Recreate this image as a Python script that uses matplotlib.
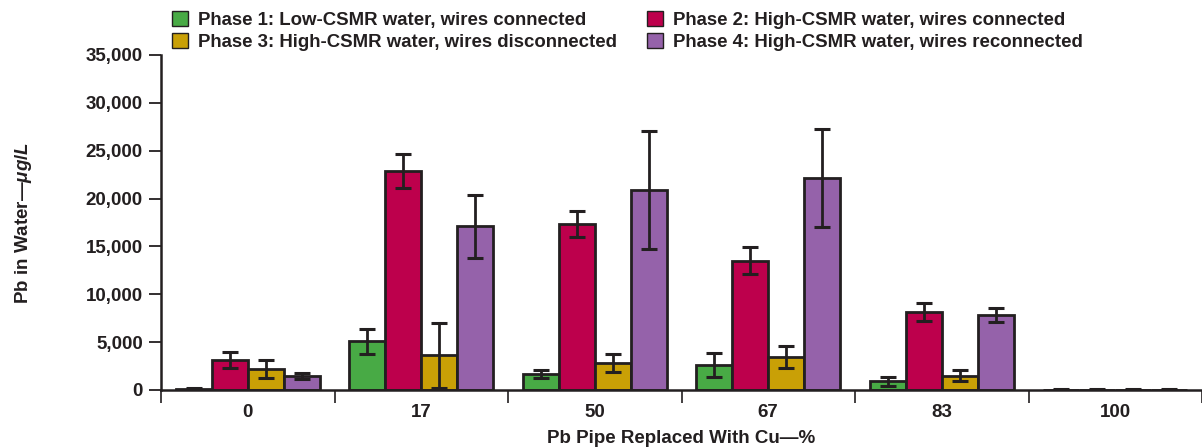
import numpy as np
import matplotlib
matplotlib.use("Agg")
import matplotlib.pyplot as plt
import matplotlib.ticker as ticker
from matplotlib.patches import Patch

plt.rcParams['font.family'] = ['Liberation Sans', 'DejaVu Sans']
plt.rcParams['font.weight'] = 'bold'
plt.rcParams['axes.labelweight'] = 'bold'
plt.rcParams['mathtext.fontset'] = 'custom'
plt.rcParams['mathtext.it'] = 'Liberation Sans:italic:bold'
plt.rcParams['mathtext.rm'] = 'Liberation Sans:bold'

# percent of lead pipe replaced with copper
categories = ['0', '17', '50', '67', '83', '100']

# mean lead in water (ug/L) and error bar half-widths per phase
phase1 = [100, 5100, 1650, 2600, 900, 0]
phase1_err = [150, 1300, 400, 1250, 450, 100]
phase2 = [3100, 22900, 17350, 13500, 8150, 0]
phase2_err = [850, 1800, 1400, 1400, 950, 100]
phase3 = [2200, 3650, 2800, 3450, 1500, 0]
phase3_err = [900, 3400, 950, 1100, 600, 100]
phase4 = [1450, 17100, 20900, 22150, 7850, 0]
phase4_err = [300, 3300, 6200, 5100, 700, 100]

labels = ['Phase 1: Low-CSMR water, wires connected',
          'Phase 2: High-CSMR water, wires connected',
          'Phase 3: High-CSMR water, wires disconnected',
          'Phase 4: High-CSMR water, wires reconnected']
colors = ['#48aa45', '#bd004c', '#c9a006', '#9562aa']
dark = '#231f20'

series = [phase1, phase2, phase3, phase4]
errors = [phase1_err, phase2_err, phase3_err, phase4_err]

fig = plt.figure(figsize=(12.02, 4.47), dpi=100)
ax = fig.add_axes([161 / 1202, 57 / 447, 1041 / 1202, 335 / 447])

x = np.arange(len(categories))
width = 0.208
for i, (vals, errs) in enumerate(zip(series, errors)):
    pos = x + (i - 1.5) * width
    ax.bar(pos, vals, width, color=colors[i], edgecolor=dark, linewidth=2, zorder=2)
    ax.errorbar(pos, vals, yerr=errs, fmt='none', ecolor=dark, elinewidth=2,
                capsize=5.5, capthick=2.2, zorder=3)

ax.set_xlim(-0.5, 5.454)
ax.set_ylim(0, 35000)
ax.set_yticks(np.arange(0, 35001, 5000))
ax.yaxis.set_major_formatter(ticker.FuncFormatter(lambda v, _: f"{v:,.0f}"))

# category labels centred, separators between groups
ax.set_xticks(x)
ax.set_xticklabels(categories)
ax.tick_params(axis='x', which='major', length=0, pad=10)
ax.set_xticks(np.arange(-0.5, 6, 1), minor=True)
ax.tick_params(axis='x', which='minor', length=9, width=1.2, color=dark)
ax.tick_params(axis='y', length=9, width=1.3, color=dark, pad=4)
ax.tick_params(labelsize=13.5, labelcolor=dark)

for side in ['top', 'right']:
    ax.spines[side].set_visible(False)
for side in ['left', 'bottom']:
    ax.spines[side].set_linewidth(1.8)
    ax.spines[side].set_color(dark)

ax.set_ylabel(r'Pb in Water—$\mathit{\mu g/L}$', fontsize=13.5, color=dark)
ax.set_xlabel('Pb Pipe Replaced With Cu—%', fontsize=13.5, color=dark)
ax.yaxis.set_label_coords(-0.122, 0.5)
ax.xaxis.set_label_coords(0.5, -0.118)

handles = [Patch(facecolor=c, edgecolor=dark, linewidth=1) for c in colors]
order = [0, 2, 1, 3]
fig.legend([handles[i] for i in order], [labels[i] for i in order], ncol=2,
           loc='upper left', bbox_to_anchor=(157 / 1202, 1.008), frameon=False,
           fontsize=13.4, handlelength=0.85, handleheight=0.85, handletextpad=0.55,
           columnspacing=1.6, labelspacing=0.2, borderpad=0.3,
           labelcolor=dark)

fig.savefig('out.png', dpi=100)
